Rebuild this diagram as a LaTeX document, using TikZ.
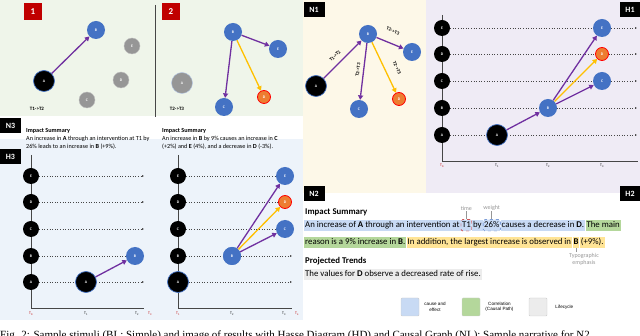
\documentclass[tikz,border=0pt]{standalone}
\usepackage{fontspec}
\setmainfont{Carlito}
\newfontfamily\capfont{Liberation Serif}
\newfontfamily\legfont{Liberation Sans}
\usetikzlibrary{arrows.meta, positioning, calc}
\definecolor{PanelGreen}{RGB}{239,245,234}
\definecolor{PanelCream}{RGB}{253,248,232}
\definecolor{PanelLilac}{RGB}{239,235,245}
\definecolor{PanelBlue}{RGB}{237,243,250}
\definecolor{EvBlue}{RGB}{68,114,196}
\definecolor{EvGray}{RGB}{150,150,150}
\definecolor{EvOrange}{RGB}{237,125,49}
\definecolor{CausePurple}{RGB}{112,48,160}
\definecolor{CorrGold}{RGB}{255,192,0}
\definecolor{TagRed}{RGB}{192,0,0}
\definecolor{AxisGray}{RGB}{70,70,70}
\definecolor{HlBlue}{RGB}{200,218,244}
\definecolor{HlGreen}{RGB}{180,215,155}
\definecolor{HlYellow}{RGB}{255,228,150}
\definecolor{HlGray}{RGB}{236,236,236}
\definecolor{NoteGray}{RGB}{150,150,150}

\tikzset{
  ev/.style={circle, inner sep=0pt, minimum size=18pt, text=white, font=\fontsize{3.8}{4}\selectfont\bfseries},
  evblue/.style={ev, fill=EvBlue},
  evgray/.style={ev, fill=EvGray, draw=EvGray!60!white, minimum size=16pt},
  evroot/.style={ev, fill=black, draw=EvBlue, line width=0.7pt, minimum size=21pt},
  evhot/.style={ev, fill=EvOrange, draw=red, line width=0.8pt, minimum size=13pt},
  evaxis/.style={ev, fill=black, minimum size=16pt},
  cause/.style={CausePurple, line width=1.3pt, -{Triangle[length=4.5pt,width=5pt]}},
  corr/.style={CorrGold, line width=1.3pt, -{Triangle[length=4.5pt,width=5pt]}},
  lane/.style={dotted, AxisGray, line width=0.6pt, -{Latex[length=2pt,width=2pt]}},
  axisline/.style={AxisGray, line width=0.9pt},
  tlabel/.style={font=\fontsize{3.8}{4}\selectfont, inner sep=0pt},
  edgelbl/.style={font=\fontsize{4.8}{5}\selectfont\bfseries, inner sep=0.5pt},
  tag/.style={fill=black, text=white, font=\fontsize{8}{8}\selectfont\bfseries, inner sep=0pt, minimum width=21pt, minimum height=15pt},
  stage/.style={fill=TagRed, text=white, font=\fontsize{9}{9}\selectfont\bfseries, inner sep=0pt, minimum width=18pt, minimum height=17pt},
  sumtxt/.style={align=left, inner sep=0pt, font=\fontsize{6.2}{8}\selectfont},
  hl/.style={inner xsep=1pt, inner ysep=1.5pt, text height=6.3pt, text depth=2pt, font=\fontsize{8.8}{10}\selectfont},
  note/.style={text=NoteGray, inner sep=1pt, font=\fontsize{6}{7}\selectfont, align=center},
  legbox/.style={draw=black!20, rounded corners=1pt, minimum size=18pt, inner sep=0pt},
  legtxt/.style={align=center, inner sep=0pt, font=\legfont\fontsize{4.6}{5.6}\selectfont}
}

\begin{document}
\begin{tikzpicture}[x=1pt, y=-1pt]
\useasboundingbox (0,0) rectangle (640,336);
% panel backgrounds
\fill[PanelGreen] (0,0) rectangle (303,116);
\fill[PanelBlue] (0,139) rectangle (303,320);
\fill[PanelCream] (303,0) rectangle (426,193);
\fill[PanelLilac] (426,0) rectangle (640,193);

% stage 1
\node[stage] (st1) at (33,12) {1};
\draw[AxisGray, line width=0.6pt] (155,5) -- (155,117);
\node[evroot] (p1A) at (44,81) {A};
\node[evblue] (p1B) at (96,30) {B};
\node[evgray] (p1C) at (87,100) {C};
\node[evgray] (p1D) at (121,80) {D};
\node[evgray] (p1E) at (132,46) {E};
\draw[cause] (p1A) -- (p1B);
\node[font=\fontsize{5}{5}\selectfont\bfseries] (p1T) at (37,109) {T1->T2};

% stage 2
\node[stage] (st2) at (171,12) {2};
\node[evgray, draw=EvBlue!40, minimum size=21pt] (p2A) at (182,83) {A};
\node[evblue] (p2B) at (233,32) {B};
\node[evblue] (p2C) at (224,107) {C};
\node[evhot] (p2D) at (264,97) {D};
\node[evblue] (p2E) at (278,49) {E};
\draw[cause] (p2B) -- (p2E);
\draw[cause] (p2B) -- (p2C);
\draw[corr] (p2B) -- (p2D);
\node[font=\fontsize{5}{5}\selectfont\bfseries] (p2T) at (177,109) {T2->T3};

% N1: causal graph
\node[tag] (n1) at (314,10) {N1};
\node[evroot] (n1A) at (316,86) {A};
\node[evblue] (n1B) at (368,34) {B};
\node[evblue] (n1C) at (359,109) {C};
\node[evhot] (n1D) at (399,99) {D};
\node[evblue] (n1E) at (412,52) {E};
\draw[cause] (n1A) -- (n1B);
\draw[cause] (n1B) -- (n1E);
\draw[cause] (n1B) -- (n1C);
\draw[corr] (n1B) -- (n1D);
\node[edgelbl, rotate=45] (n1lAB) at (335,56) {T1->T2};
\node[edgelbl, rotate=-22] (n1lBE) at (393,31) {T2->T3};
\node[edgelbl, rotate=83] (n1lBC) at (358,70) {T2->T3};
\node[edgelbl, rotate=-64] (n1lBD) at (397,68) {T2->T3};

% H1: hasse diagram
\node[tag] (h1) at (630,10) {H1};
\draw[axisline] (442,15) -- (442,161) -- (638,161);
\foreach \ev/\yy in {A/135,B/108,C/81,D/54,E/28} {
  \node[evaxis] (h1\ev) at (442,\yy) {\ev};
  \coordinate (h1\ev-end) at (637,\yy);
  \draw[lane] (h1\ev) -- (h1\ev-end);
}
\foreach \tn/\xx/\cc in {0/442/TagRed,1/497/black,2/548/black,3/602/black}
  \node[tlabel, text=\cc] (h1t\tn) at (\xx,166) {T\textsubscript{\tn}};
\node[evroot] (h1eA) at (497,135) {A};
\node[evblue] (h1eB) at (548,108) {B};
\node[evblue] (h1eC) at (602,81) {C};
\node[evhot] (h1eD) at (602,54) {D};
\node[evblue] (h1eE) at (602,28) {E};
\draw[cause] (h1eA) -- (h1eB);
\draw[cause] (h1eB) -- (h1eE);
\draw[cause] (h1eB) -- (h1eC);
\draw[corr] (h1eB) -- (h1eD);

% N3 / H3
\node[tag] (n3) at (10.5,126) {N3};
\node[tag] (h3) at (10.5,157) {H3};
\node[sumtxt, anchor=north west] (n3sumA) at (26,128) {\textbf{Impact Summary}\\An increase in \textbf{A} through an intervention at T1 by\\26\% leads to an increase in \textbf{B} (+9\%).};
\node[sumtxt, anchor=north west] (n3sumB) at (162,128) {\textbf{Impact Summary}\\An increase in \textbf{B} by 9\% causes an increase in \textbf{C}\\(+2\%) and \textbf{E} (4\%), and a decrease in \textbf{D} (-3\%).};

% H3 left
\draw[axisline] (31,155) -- (31,308) -- (144,308);
\foreach \ev/\yy in {A/282,B/256,C/229,D/202,E/176} {
  \node[evaxis] (hlt\ev) at (31,\yy) {\ev};
  \coordinate (hlt\ev-end) at (144,\yy);
  \draw[lane] (hlt\ev) -- (hlt\ev-end);
}
\foreach \tn/\xx/\cc in {0/31/TagRed,1/86/black,2/137/black,3/150/TagRed}
  \node[tlabel, text=\cc] (hltt\tn) at (\xx,314) {T\textsubscript{\tn}};
\node[evroot] (hlteA) at (86,282) {A};
\node[evblue] (hlteB) at (135,256) {B};
\draw[cause] (hlteA) -- (hlteB);

% H3 right
\draw[axisline] (178,155) -- (178,308) -- (292,308);
\node[evroot] (hrtA) at (178,282) {A};
\foreach \ev/\yy in {B/256,C/229,D/202,E/176}
  \node[evaxis] (hrt\ev) at (178,\yy) {\ev};
\node[evblue] (hrteB) at (232,256) {B};
\node[evblue] (hrteC) at (285,229) {C};
\node[evhot] (hrteD) at (285,202) {D};
\node[evblue] (hrteE) at (285,176) {E};
\coordinate (hrtA-end) at (292,282);
\coordinate (hrtB-end) at (292,256);
\draw[lane] (hrtA) -- (hrtA-end);
\draw[lane] (hrtB) -- (hrtB-end);
\foreach \ev in {C,D,E}
  \draw[lane, -] (hrt\ev) -- (hrte\ev);
\node[evblue] at (hrteB) {B};
\foreach \tn/\xx/\cc in {1/178/TagRed,2/232/black,3/284/black,4/297/TagRed}
  \node[tlabel, text=\cc] (hrtt\tn) at (\xx,314) {T\textsubscript{\tn}};
\draw[cause] (hrteB) -- (hrteE);
\draw[cause] (hrteB) -- (hrteC);
\draw[corr] (hrteB) -- (hrteD);

% N2 / H2: narrative
\node[tag] (n2) at (314,193.5) {N2};
\node[tag] (h2) at (630,193.5) {H2};
\node[font=\fontsize{8.8}{10}\selectfont\bfseries, anchor=base west, inner sep=0pt] (n2head) at (305,214.5) {Impact Summary};
\node[hl, fill=HlBlue, anchor=base west] (l1a) at (304,227.5) {An increase of \textbf{A} through an intervention at};
\node[hl, fill=HlBlue, right=0pt of l1a, draw=TagRed, dashed, rounded corners=1.5pt] (l1t) {T1};
\node[hl, fill=HlBlue, right=0pt of l1t] (l1b) {by};
\node[hl, fill=HlBlue, right=0pt of l1b, draw=EvBlue, dashed, rounded corners=1.5pt] (l1w) {26\%};
\node[hl, fill=HlBlue, right=0pt of l1w] (l1c) {causes a decrease in \textbf{D}.};
\node[hl, fill=HlGreen, right=0pt of l1c] (l1d) {The main};
\node[hl, fill=HlGreen, anchor=base west] (l2a) at (304,244.5) {reason is a 9\% increase in \textbf{B}.};
\node[hl, fill=HlYellow, right=0pt of l2a] (l2b) {In addition, the largest increase is observed in};
\node[hl, fill=HlYellow, right=0pt of l2b] (l2c) {\textbf{B}};
\node[hl, fill=HlYellow, right=0pt of l2c] (l2d) {(+9\%).};
\node[note, above=8pt of l1t] (time) {time};
\node[note, above=8pt of l1w] (weight) {weight};
\draw[NoteGray, line width=0.5pt] (time) -- (l1t);
\draw[NoteGray, line width=0.5pt] (weight) -- (l1w);
\node[note, below=4pt of l2c, xshift=8pt] (emph) {Typographic\\emphasis};
\draw[NoteGray, line width=0.5pt] (l2c.south) -- (l2c.south |- emph.north);

\node[font=\fontsize{8.8}{10}\selectfont\bfseries, anchor=base west, inner sep=0pt] (n2proj) at (305,264) {Projected Trends};
\node[hl, fill=HlGray, anchor=base west] (l3a) at (304,277) {The values for \textbf{D} observe a decreased rate of rise.};

% legend
\node[legbox, fill=HlBlue] (lgCause) at (410,307) {};
\node[legtxt, right=5pt of lgCause] (lgCauseT) {cause and\\effect};
\node[legbox, fill=HlGreen] (lgCorr) at (471,307) {};
\node[legtxt, right=5pt of lgCorr] (lgCorrT) {Correlation\\(Causal Path)};
\node[legbox, fill=HlGray] (lgLife) at (538,307) {};
\node[legtxt, right=8pt of lgLife] (lgLifeT) {Lifecycle};

% caption (cut by the page edge)
\node[anchor=base west, inner sep=0pt, font=\capfont\fontsize{11}{12}\selectfont] (cap) at (0,339) {Fig. 2: Sample stimuli (BL: Simple) and image of results with Hasse Diagram (HD) and Causal Graph (NL): Sample narrative for N2};
\end{tikzpicture}
\end{document}
